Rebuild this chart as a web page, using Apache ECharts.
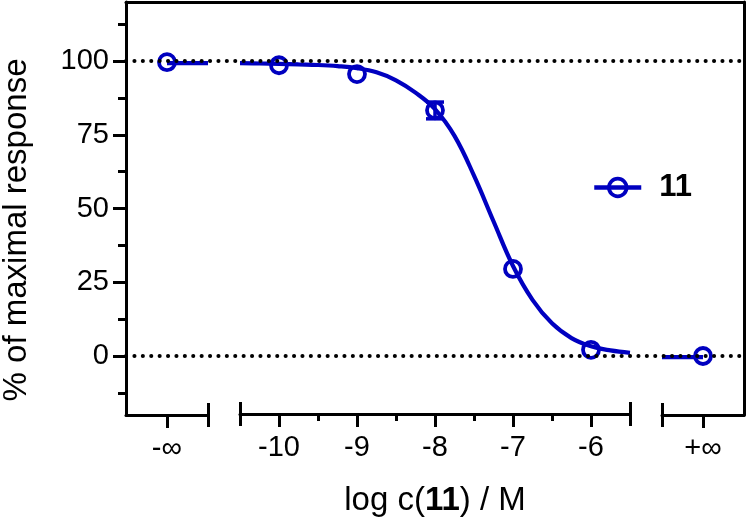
<!DOCTYPE html>
<html><head><meta charset="utf-8">
<script src="https://cdn.jsdelivr.net/npm/echarts@6/dist/echarts.min.js"></script>
<style>html,body{margin:0;padding:0;background:#fff}#c{width:747px;height:522px}#err{position:absolute;left:0;top:0;font:11px monospace;white-space:pre-wrap;color:red;width:740px}</style>
</head><body><div id="c"></div><div id="err"></div>
<script>
// ---- data ----
const yMajorTicks = [0, 25, 50, 75, 100];
const yMinorTicks = [-12.5, 12.5, 37.5, 62.5, 87.5, 112.5];
const xMajorTicks = [-10, -9, -8, -7, -6];
const xMinorTicks = [-9.5, -8.5, -7.5, -6.5];
const negInfLabel = '-∞';
const posInfLabel = '+∞';
const seriesName = '11';

const pointX = [-10, -9, -8, -7, -6];
const pointY = [98.5, 95.5, 83.2, 29.3, 1.8];
const errX = [-8];
const errLow = [80.3];
const errHigh = [86.0];
const negInfPointY = 99.6;
const posInfPointY = 0.0;
const negInfFitY = 99.3;
const posInfFitY = -0.4;
const refLines = [100, 0];

const curveX = [-10.5, -10.25, -10, -9.75, -9.5, -9.25, -9, -8.75, -8.5, -8.25, -8, -7.75, -7.5, -7.25, -7, -6.75, -6.5, -6.25, -6, -5.75, -5.5];
const curveY = [99.2, 99.1, 99.0, 98.8, 98.6, 98.2, 97.5, 96.1, 93.4, 89.2, 83.6, 74.5, 61.0, 45.5, 30.3, 18.8, 10.8, 5.8, 3.0, 1.6, 0.8];

// ---- styling ----
const BLUE = '#0000C0';
const FONT = '"Liberation Sans", Arial, Helvetica, sans-serif';
const AX = { color: '#000', width: 3 };
const MARK = { color: 'transparent', borderColor: BLUE, borderWidth: 3.8, opacity: 1 };

try {
const chart = echarts.init(document.getElementById('c'), null, { renderer: 'canvas' });

function grid(left, right) {
  return { left: left, right: right, top: 2, bottom: 107 };
}
function hiddenY(gi) {
  return { gridIndex: gi, type: 'value', min: -20, max: 120, show: false };
}
function segAxis(gi, min, max, opts) {
  return Object.assign({
    gridIndex: gi, type: 'value', position: 'bottom', min: min, max: max,
    axisLine: { show: true, onZero: false, lineStyle: AX },
    axisTick: { show: false },
    axisLabel: { show: false },
    splitLine: { show: false }
  }, opts);
}
function tickAxis(gi, min, max, values, len, offset) {
  return {
    gridIndex: gi, type: 'value', position: 'bottom', min: min, max: max, offset: offset,
    axisLine: { show: false, onZero: false },
    axisTick: { show: true, customValues: values, length: len, lineStyle: AX },
    axisLabel: { show: false },
    splitLine: { show: false }
  };
}
const labelStyle = { show: true, color: '#000', fontSize: 29, fontFamily: FONT, margin: 19 };

const option = {
  animation: false,
  backgroundColor: '#fff',
  grid: [grid(126, 3), grid(126, 747 - 208), grid(240, 747 - 630), grid(662, 3)],
  xAxis: [
    { gridIndex: 0, type: 'value', position: 'top', min: 0, max: 1,
      axisLine: { show: true, onZero: false, lineStyle: AX }, axisTick: { show: false },
      axisLabel: { show: false }, splitLine: { show: false } },
    segAxis(1, -1, 1, {
      axisTick: { show: true, customValues: [0], length: 13, lineStyle: AX },
      axisLabel: Object.assign({}, labelStyle, { customValues: [0], formatter: () => negInfLabel })
    }),
    tickAxis(1, -1, 1, [1], 24, -12),
    segAxis(2, -10.5, -5.5, {
      axisTick: { show: true, customValues: xMajorTicks, length: 13, lineStyle: AX },
      axisLabel: Object.assign({}, labelStyle, { customValues: xMajorTicks, formatter: v => String(v) }),
      name: 'log c({b|' + seriesName + '}) / M',
      nameLocation: 'middle', nameGap: 70,
      nameTextStyle: { color: '#000', fontSize: 33, fontFamily: FONT,
        rich: { b: { color: '#000', fontSize: 33, fontFamily: FONT, fontWeight: 'bold' } } }
    }),
    tickAxis(2, -10.5, -5.5, xMinorTicks, 7, 0),
    tickAxis(2, -10.5, -5.5, [-10.5, -5.5], 24, -12),
    segAxis(3, -1, 1, {
      axisTick: { show: true, customValues: [0], length: 13, lineStyle: AX },
      axisLabel: Object.assign({}, labelStyle, { customValues: [0], formatter: () => posInfLabel })
    }),
    tickAxis(3, -1, 1, [-1], 24, -12)
  ],
  yAxis: [
    { gridIndex: 0, type: 'value', position: 'left', min: -20, max: 120,
      axisLine: { show: true, onZero: false, lineStyle: AX },
      axisTick: { show: true, customValues: yMajorTicks, length: 13, lineStyle: AX },
      axisLabel: { show: true, customValues: yMajorTicks, color: '#000', fontSize: 29, fontFamily: FONT, margin: 17 },
      splitLine: { show: false } },
    { gridIndex: 0, type: 'value', position: 'left', min: -20, max: 120,
      axisLine: { show: false, onZero: false },
      axisTick: { show: true, customValues: yMinorTicks, length: 8, lineStyle: AX },
      axisLabel: { show: false }, splitLine: { show: false } },
    { gridIndex: 0, type: 'value', position: 'right', min: -20, max: 120,
      axisLine: { show: true, onZero: false, lineStyle: AX },
      axisTick: { show: false }, axisLabel: { show: false }, splitLine: { show: false } },
    hiddenY(1), hiddenY(2), hiddenY(3)
  ],
  legend: {
    data: [seriesName], left: 587, top: 167, itemWidth: 47, itemHeight: 22,
    lineStyle: { width: 4.5, color: BLUE },
    itemStyle: { color: 'transparent', borderColor: BLUE, borderWidth: 3.8 },
    textStyle: { color: '#000', fontSize: 31, fontWeight: 'bold', fontFamily: FONT, padding: [0, 0, 0, 13] },
    selectedMode: false
  },
  graphic: [{
    type: 'text', x: 17, y: 230, rotation: Math.PI / 2,
    style: { text: '% of maximal response', fontSize: 33, fontFamily: FONT, fill: '#000', align: 'center', verticalAlign: 'middle' }
  }],
  series: [
    { type: 'line', xAxisIndex: 0, yAxisIndex: 0, data: [[0, -100], [1, -100]], z: 10, silent: true,
      showSymbol: false, lineStyle: { opacity: 0 },
      markLine: { silent: true, symbol: 'none', label: { show: false },
        lineStyle: { color: '#000', width: 4, type: [0.1, 8.3], cap: 'round' },
        data: refLines.map(v => ({ yAxis: v })) } },
    { type: 'line', xAxisIndex: 1, yAxisIndex: 3, data: [[0, negInfFitY], [1, negInfFitY]],
      showSymbol: false, lineStyle: { color: BLUE, width: 4.2 }, z: 3 },
    { type: 'scatter', xAxisIndex: 1, yAxisIndex: 3, data: [[0, negInfPointY]], symbol: 'circle', symbolSize: 16,
      itemStyle: MARK, z: 4 },
    { type: 'line', xAxisIndex: 3, yAxisIndex: 4, data: curveX.map((x, i) => [x, curveY[i]]),
      smooth: 0.4, showSymbol: false, lineStyle: { color: BLUE, width: 4.2 }, z: 3 },
    { type: 'scatter', xAxisIndex: 3, yAxisIndex: 4, data: pointX.map((x, i) => [x, pointY[i]]), symbol: 'circle', symbolSize: 16,
      itemStyle: MARK, z: 4 },
    { type: 'custom', xAxisIndex: 3, yAxisIndex: 4, z: 4,
      data: errX.map((x, i) => [x, errLow[i], errHigh[i]]),
      renderItem: function (params, api) {
        const x = api.value(0);
        const lo = api.coord([x, api.value(1)]);
        const hi = api.coord([x, api.value(2)]);
        const hw = 9;
        const st = { stroke: BLUE, lineWidth: 3.5 };
        return { type: 'group', children: [
          { type: 'line', shape: { x1: lo[0], y1: lo[1], x2: hi[0], y2: hi[1] }, style: st },
          { type: 'line', shape: { x1: lo[0] - hw, y1: lo[1], x2: lo[0] + hw, y2: lo[1] }, style: st },
          { type: 'line', shape: { x1: hi[0] - hw, y1: hi[1], x2: hi[0] + hw, y2: hi[1] }, style: st }
        ] };
      } },
    { type: 'line', xAxisIndex: 6, yAxisIndex: 5, data: [[-1, posInfFitY], [0, posInfFitY]],
      showSymbol: false, lineStyle: { color: BLUE, width: 4.2 }, z: 3 },
    { type: 'scatter', xAxisIndex: 6, yAxisIndex: 5, data: [[0, posInfPointY]], symbol: 'circle', symbolSize: 16,
      itemStyle: MARK, z: 4 },
    { type: 'line', name: seriesName, xAxisIndex: 3, yAxisIndex: 4, data: [[-20, -100]], symbol: 'circle', symbolSize: 16,
      showSymbol: false,
      lineStyle: { color: BLUE, width: 4.5 }, itemStyle: MARK }
  ]
};
chart.setOption(option);
} catch (e) {
  document.getElementById('err').textContent = String(e && e.stack || e);
}
</script>
</body></html>
